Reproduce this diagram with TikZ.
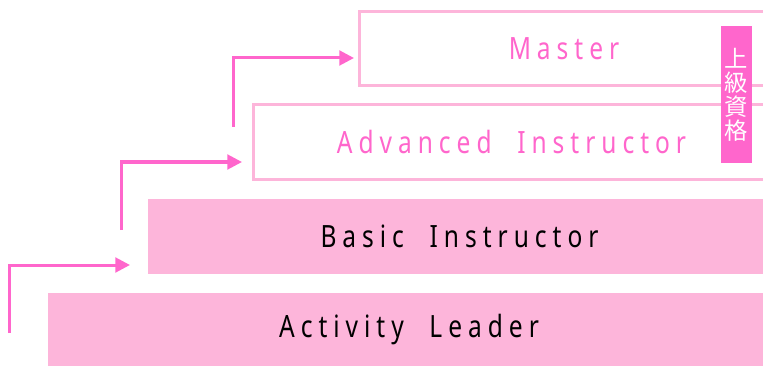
\documentclass[tikz,border=0pt]{standalone}
\usepackage{fontspec}
\usetikzlibrary{arrows.meta}
\setmainfont{Noto Sans}
\newfontfamily\levelfont{Noto Sans}[FakeStretch=0.8,LetterSpace=19.5]
\newfontfamily\cjkfont{Noto Sans CJK JP}
\definecolor{lightpink}{RGB}{253,181,218}
\definecolor{hotpink}{RGB}{255,102,204}
\newcommand{\wordgap}{\hspace{10pt}}
\tikzset{every picture/.style={line width=0.75pt}}
\tikzset{
  outline box/.style={draw=lightpink, line width=2.25pt, fill=white, inner sep=0pt, text=hotpink, font=\levelfont\fontsize{23pt}{26pt}\selectfont},
  filled box/.style={fill=lightpink, inner sep=0pt, text=black, font=\levelfont\fontsize{23pt}{26pt}\selectfont},
  step arrow/.style={draw=hotpink, line width=2.25pt, -{Triangle[length=11pt,width=11pt]}},
  badge/.style={fill=hotpink, text=white, inner sep=0pt, align=center, font=\cjkfont\fontsize{17.5pt}{18pt}\selectfont}
}

\begin{document}
\begin{tikzpicture}[x=0.75pt,y=0.75pt,yscale=-1,xscale=1]
\useasboundingbox (0,0) rectangle (763,367);

%Level boxes
\node [filled box, minimum width=541.5pt, minimum height=54.75pt] (leader) at (409,329.5) {Activity \wordgap Leader};
\node [filled box, minimum width=467.25pt, minimum height=56.25pt] (basic) at (459.5,236.5) {Basic \wordgap Instructor};
\node [outline box, minimum width=387pt, minimum height=56.25pt] (advanced) at (511.5,142) {Advanced \wordgap Instructor};
\node [outline box, minimum width=306.75pt, minimum height=55.5pt] (master) at (564,48.5) {Master};

%Badge
\node [badge, minimum width=23.25pt, minimum height=102.75pt] (upper) at (736.5,94.5) {上\\級\\資\\格};

%Step arrows
\coordinate (s1) at (9.5,333);
\coordinate (t1) at (130,265);
\coordinate (s2) at (121,230);
\coordinate (t2) at (242,162);
\coordinate (s3) at (233.5,127);
\coordinate (t3) at (354,58);
\draw [step arrow] (s1) |- (t1);
\draw [step arrow] (s2) |- (t2);
\draw [step arrow] (s3) |- (t3);

\end{tikzpicture}
\end{document}
